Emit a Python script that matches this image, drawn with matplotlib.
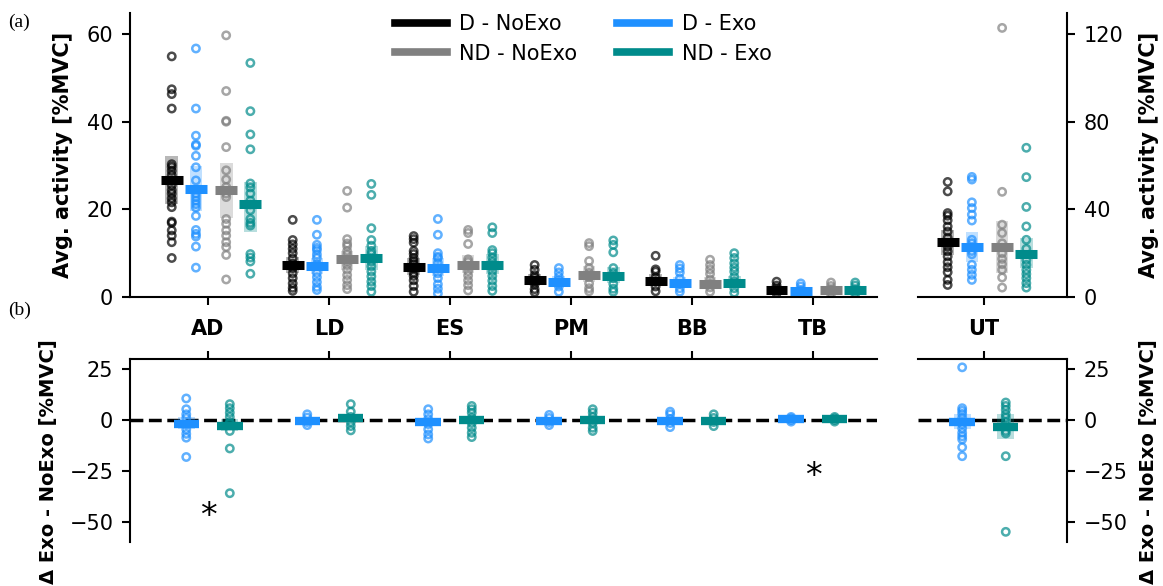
import matplotlib
matplotlib.use('Agg')
import matplotlib.pyplot as plt

# ---------------- data ----------------
muscles_left = ['AD', 'LD', 'ES', 'PM', 'BB', 'TB']
muscles_right = ['UT']
conditions = ['D - NoExo', 'D - Exo', 'ND - NoExo', 'ND - Exo']
colors = ['#000000', '#1e90ff', '#808080', '#008b8b']

# individual points per muscle (AD, LD, ES, PM, BB, TB, UT)
d_noexo_pts = [
    [54.9, 47.4, 46.3, 43.0, 30.3, 29.7, 28.8, 27.8, 25.5, 24.4, 23.6, 22.5, 21.6, 20.5, 17.2, 16.9, 15.2, 14.0, 12.5, 8.9],
    [17.6, 13.0, 12.0, 11.0, 10.0, 8.8, 7.6, 6.6, 5.4, 4.3, 3.1, 2.1, 1.4],
    [13.9, 13.2, 12.4, 10.5, 9.8, 8.9, 8.2, 7.5, 6.5, 5.5, 4.8, 3.8, 2.5, 1.2],
    [7.3, 6.2, 5.0, 4.4, 3.5, 2.9, 1.8, 1.1],
    [9.4, 6.3, 5.8, 4.5, 3.5, 2.4, 1.3],
    [3.5, 2.6, 2.0, 1.4, 0.8],
    [52.5, 48.2, 38.3, 37.1, 35.0, 32.2, 29.9, 27.0, 23.0, 20.8, 18.5, 15.9, 13.6, 11.3, 7.8, 5.5],
]
d_exo_pts = [
    [56.7, 43.0, 36.8, 34.8, 34.5, 32.2, 29.6, 26.6, 23.6, 22.8, 22.0, 21.2, 20.4, 18.5, 15.3, 14.4, 13.8, 11.5, 6.7],
    [17.6, 14.2, 11.9, 11.2, 10.7, 9.7, 8.9, 7.5, 5.5, 4.5, 3.4, 2.3, 1.6],
    [17.8, 14.2, 10.0, 9.2, 8.9, 7.8, 6.6, 5.4, 4.3, 2.9, 1.9, 0.8],
    [6.6, 5.6, 4.6, 3.8, 3.0, 2.4, 1.2],
    [7.3, 6.5, 5.6, 4.2, 3.0, 2.0, 1.2],
    [3.1, 2.4, 1.6, 1.0, 0.6],
    [54.8, 53.6, 43.2, 40.6, 37.6, 34.9, 26.1, 24.5, 21.0, 19.5, 14.7, 12.4, 10.1, 7.8],
]
nd_noexo_pts = [
    [59.7, 47.0, 40.2, 40.0, 34.2, 28.9, 26.8, 25.1, 23.6, 22.8, 17.8, 16.7, 15.2, 14.0, 12.5, 11.4, 9.6, 4.0],
    [24.2, 20.4, 13.2, 12.2, 11.6, 10.5, 9.7, 8.2, 7.3, 6.2, 5.0, 3.9, 2.7, 1.8],
    [15.3, 14.6, 12.1, 8.6, 8.0, 7.0, 5.9, 4.9, 3.8, 2.7, 1.5],
    [12.3, 11.6, 8.2, 6.6, 5.5, 4.5, 3.1, 2.0, 1.3],
    [8.5, 7.3, 6.3, 5.3, 4.0, 3.0, 2.2, 1.2],
    [3.3, 2.5, 1.8, 1.2, 0.7],
    [122.8, 48.0, 33.0, 29.2, 24.5, 20.0, 17.4, 15.0, 12.4, 8.9, 4.3],
]
nd_exo_pts = [
    [53.4, 42.4, 37.1, 33.7, 25.9, 25.0, 23.6, 22.0, 21.1, 19.8, 17.8, 16.9, 16.3, 9.8, 9.0, 8.1, 5.3],
    [25.8, 23.3, 15.7, 13.0, 11.7, 10.5, 9.8, 8.1, 7.0, 5.8, 4.7, 3.5, 2.5, 1.2],
    [15.9, 14.6, 10.7, 10.0, 9.0, 8.0, 7.0, 5.9, 4.8, 3.7, 2.5, 1.4],
    [12.9, 11.9, 10.2, 6.6, 5.5, 4.3, 3.0, 1.9, 1.2],
    [10.0, 8.9, 7.7, 6.7, 5.8, 4.6, 3.5, 2.0, 1.0],
    [3.3, 2.6, 1.8, 1.2, 0.7],
    [68.1, 54.7, 41.1, 32.2, 26.1, 22.0, 16.9, 14.7, 12.4, 10.5, 8.6, 6.3, 4.3],
]

# summary: centre bar and shaded box (low, high) per muscle
d_noexo_mid = [26.7, 7.2, 6.8, 3.9, 3.7, 1.5, 25.3]
d_noexo_lo = [21.2, 5.5, 5.0, 2.8, 2.6, 1.0, 19.2]
d_noexo_hi = [32.1, 9.2, 9.0, 5.2, 5.2, 2.1, 30.7]
d_exo_mid = [24.7, 7.1, 6.6, 3.5, 3.3, 1.4, 23.0]
d_exo_lo = [19.7, 5.3, 4.8, 2.5, 2.4, 1.0, 16.2]
d_exo_hi = [29.8, 9.0, 8.8, 4.7, 4.5, 2.0, 29.6]
nd_noexo_mid = [24.4, 8.6, 7.4, 5.0, 3.0, 1.5, 22.6]
nd_noexo_lo = [18.0, 6.2, 5.5, 3.5, 2.0, 1.0, 10.9]
nd_noexo_hi = [30.6, 10.4, 9.5, 7.0, 4.5, 2.0, 34.8]
nd_exo_mid = [21.2, 9.0, 7.2, 4.8, 3.1, 1.5, 19.7]
nd_exo_lo = [14.8, 6.2, 5.2, 3.2, 2.0, 1.0, 13.1]
nd_exo_hi = [26.3, 11.7, 9.8, 6.8, 4.8, 2.1, 26.9]

# differences Exo - NoExo
delta_d_pts = [
    [10.6, 5.3, 2.8, 1.0, -2.1, -4.6, -6.8, -8.7, -18.2],
    [2.8, 1.2, -1.0, -2.5],
    [5.3, 2.8, 0.5, -2.0, -4.6, -7.1, -9.1],
    [2.5, 1.0, -1.0, -2.5],
    [4.1, 2.8, 0.5, -1.5, -3.5],
    [1.5, 0.8, 0.0, -0.8],
    [25.9, 5.8, 4.5, 3.0, 1.0, -2.0, -4.1, -6.3, -8.0, -9.5, -13.4, -17.8],
]
delta_nd_pts = [
    [7.8, 5.8, 3.6, 1.5, -1.0, -1.8, -5.4, -14.0, -36.0],
    [7.8, 4.1, 1.5, -1.0, -3.0, -5.1],
    [6.9, 5.3, 3.6, 1.0, -1.5, -3.8, -6.3, -8.4],
    [5.3, 3.6, 1.5, -1.5, -3.8, -5.4],
    [2.8, 1.0, -1.0, -3.0],
    [1.5, 0.8, 0.0, -0.8],
    [8.6, 6.9, 5.0, 2.8, 1.2, -1.0, -3.0, -5.4, -6.6, -17.8, -55.0],
]
delta_d_mid = [-1.8, -0.3, -0.8, -0.5, -0.5, 0.3, -1.0]
delta_d_lo = [-4.5, -1.5, -2.5, -1.5, -1.5, -0.3, -4.6]
delta_d_hi = [1.5, 1.0, 1.0, 0.5, 0.8, 0.8, 2.8]
delta_nd_mid = [-3.0, 0.8, -0.2, 0.0, -0.5, 0.3, -3.5]
delta_nd_lo = [-5.5, -1.0, -2.0, -1.5, -1.5, -0.3, -9.1]
delta_nd_hi = [0.5, 2.5, 1.5, 1.5, 0.5, 0.8, 2.8]

signif_muscles = ['AD', 'TB']
signif_y = [-47.5, -28.0]

# ---------------- figure ----------------
plt.rcParams['font.family'] = ['DejaVu Sans']
plt.rcParams['font.size'] = 15
FS = 15

W, H = 1163, 586
fig = plt.figure(figsize=(W / 100, H / 100), dpi=100)


def fx(px):
    return px / W


def fy(py):
    return 1 - py / H


ax_tl = fig.add_axes([fx(130), fy(297), fx(877 - 130), (297 - 13) / H])
ax_tr = fig.add_axes([fx(918), fy(297), fx(1067 - 918), (297 - 13) / H])
ax_bl = fig.add_axes([fx(130), fy(542), fx(877 - 130), (542 - 359) / H])
ax_br = fig.add_axes([fx(918), fy(542), fx(1067 - 918), (542 - 359) / H])

top_sets = [
    (d_noexo_pts, d_noexo_mid, d_noexo_lo, d_noexo_hi),
    (d_exo_pts, d_exo_mid, d_exo_lo, d_exo_hi),
    (nd_noexo_pts, nd_noexo_mid, nd_noexo_lo, nd_noexo_hi),
    (nd_exo_pts, nd_exo_mid, nd_exo_lo, nd_exo_hi),
]
top_offsets = [-0.3, -0.1, 0.15, 0.35]
bot_sets = [
    (delta_d_pts, delta_d_mid, delta_d_lo, delta_d_hi, colors[1]),
    (delta_nd_pts, delta_nd_mid, delta_nd_lo, delta_nd_hi, colors[3]),
]
bot_offsets = [-0.18, 0.18]


def draw_group(ax, x, pts, mid, lo, hi, color, barw, boxw, lw_bar):
    ax.fill_between([x - boxw / 2, x + boxw / 2], [lo, lo], [hi, hi],
                    color=color, alpha=0.28, lw=0, zorder=1)
    ax.scatter([x] * len(pts), pts, s=28, facecolors='none', edgecolors=color,
               linewidths=1.8, alpha=0.7, zorder=2)
    ax.hlines(mid, x - barw / 2, x + barw / 2, color=color, lw=lw_bar, zorder=3)


n_left = len(muscles_left)
for k, (pts, mid, lo, hi) in enumerate(top_sets):
    for i in range(n_left + 1):
        ax = ax_tl if i < n_left else ax_tr
        xc = i if i < n_left else 0
        draw_group(ax, xc + top_offsets[k], pts[i], mid[i], lo[i], hi[i],
                   colors[k], 0.18, 0.105, 6.5)

for k, (pts, mid, lo, hi, c) in enumerate(bot_sets):
    for i in range(n_left + 1):
        ax = ax_bl if i < n_left else ax_br
        xc = i if i < n_left else 0
        draw_group(ax, xc + bot_offsets[k], pts[i], mid[i], lo[i], hi[i],
                   c, 0.21, 0.14, 6)

for ax in (ax_bl, ax_br):
    ax.axhline(0, color='k', ls='--', lw=2.5, zorder=0.5)

for m, yv in zip(signif_muscles, signif_y):
    ax_bl.text(muscles_left.index(m), yv, '*', ha='center', va='center',
               fontsize=24, color='k')

# axes limits / ticks
ax_tl.set_xlim(-0.645, 5.53)
ax_bl.set_xlim(-0.645, 5.53)
ax_tr.set_xlim(-0.545, 0.686)
ax_br.set_xlim(-0.545, 0.686)
ax_tl.set_ylim(0, 64.8)
ax_tr.set_ylim(0, 129.6)
ax_bl.set_ylim(-60, 30)
ax_br.set_ylim(-60, 30)

ax_tl.set_yticks([0, 20, 40, 60])
ax_tr.set_yticks([0, 40, 80, 120])
ax_bl.set_yticks([-50, -25, 0, 25])
ax_br.set_yticks([-50, -25, 0, 25])

ax_tl.set_xticks(range(n_left))
ax_tl.set_xticklabels(muscles_left, fontweight='bold')
ax_tr.set_xticks([0])
ax_tr.set_xticklabels(muscles_right, fontweight='bold')
ax_bl.set_xticks(range(n_left))
ax_br.set_xticks([0])

for ax in (ax_tl, ax_tr, ax_bl, ax_br):
    for s in ax.spines.values():
        s.set_linewidth(1.5)
    ax.tick_params(width=1.5, length=6, labelsize=FS)
    ax.tick_params(axis='y', pad=6)

ax_tl.spines[['top', 'right']].set_visible(False)
ax_tr.spines[['top', 'left']].set_visible(False)
ax_tr.yaxis.tick_right()
ax_tr.yaxis.set_label_position('right')
ax_tl.tick_params(axis='x', pad=10)
ax_tr.tick_params(axis='x', pad=10)

ax_bl.spines[['bottom', 'right']].set_visible(False)
ax_br.spines[['bottom', 'left']].set_visible(False)
for ax in (ax_bl, ax_br):
    ax.xaxis.tick_top()
    ax.set_xticklabels([])
ax_br.yaxis.tick_right()
ax_br.yaxis.set_label_position('right')

ylab_top = 'Avg. activity [%MVC]'
ylab_bot = 'Δ Exo - NoExo [%MVC]'
ax_tl.set_ylabel(ylab_top, fontweight='bold', fontsize=FS)
ax_tr.set_ylabel(ylab_top, fontweight='bold', fontsize=FS)
ax_bl.set_ylabel(ylab_bot, fontweight='bold', fontsize=14)
ax_br.set_ylabel(ylab_bot, fontweight='bold', fontsize=14)
ax_tl.yaxis.set_label_coords((73 - 130) / 747, 0.5)
ax_bl.yaxis.set_label_coords((58 - 130) / 747, 0.44)
ax_tr.yaxis.set_label_coords(1.0 + (1139 - 1067) / 149, 0.5)
ax_br.yaxis.set_label_coords(1.0 + (1139 - 1067) / 149, 0.44)

# legend
handles = [plt.Line2D([], [], color=c, lw=5.5) for c in colors]
order = [0, 2, 1, 3]
fig.legend([handles[i] for i in order], [conditions[i] for i in order],
           ncol=2, loc='upper center', bbox_to_anchor=(fx(583), fy(4)),
           frameon=False, fontsize=FS, handlelength=2.5, handletextpad=0.6,
           columnspacing=1.9, labelspacing=0.45, borderpad=0)

fig.text(fx(8), fy(22), '(a)', family='Liberation Serif', fontsize=14, va='center')
fig.text(fx(8), fy(310), '(b)', family='Liberation Serif', fontsize=14, va='center')

fig.savefig('out.png', dpi=100)
